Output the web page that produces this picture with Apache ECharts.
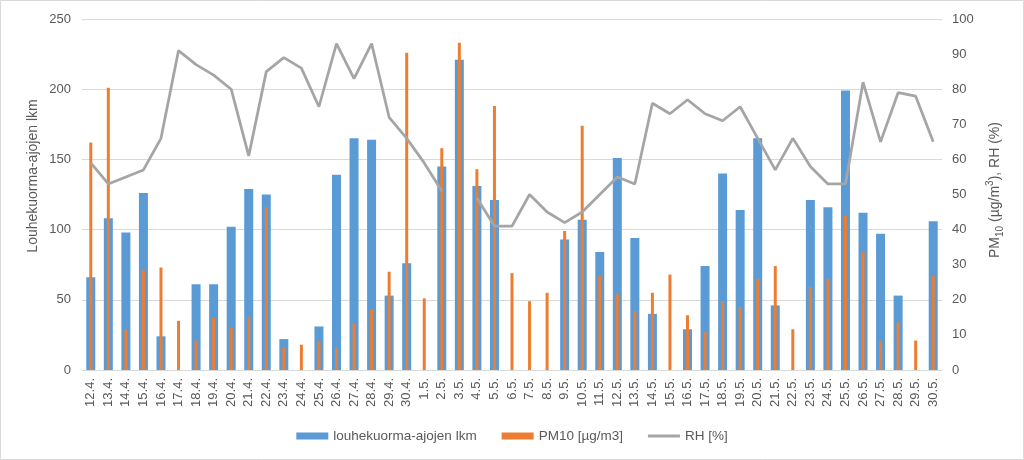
<!DOCTYPE html>
<html>
<head>
<meta charset="utf-8">
<script src="https://cdn.jsdelivr.net/npm/echarts@6/dist/echarts.min.js"></script>
<style>
html,body{margin:0;padding:0;background:#fff;}
#chart{width:1024px;height:460px;}
</style>
</head>
<body>
<div id="chart"></div>
<script>
var categories = ['12.4.','13.4.','14.4.','15.4.','16.4.','17.4.','18.4.','19.4.','20.4.','21.4.','22.4.','23.4.','24.4.','25.4.','26.4.','27.4.','28.4.','29.4.','30.4.',
  '1.5.','2.5.','3.5.','4.5.','5.5.','6.5.','7.5.','8.5.','9.5.','10.5.','11.5.','12.5.','13.5.','14.5.','15.5.','16.5.','17.5.','18.5.','19.5.','20.5.','21.5.','22.5.','23.5.','24.5.','25.5.','26.5.','27.5.','28.5.','29.5.','30.5.'];
var louhekuorma = [66,108,98,126,24,null,61,61,102,129,125,22,null,31,139,165,164,53,76,
  null,145,221,131,121,null,null,null,93,107,84,151,94,40,null,29,74,140,114,165,46,null,121,116,199,112,97,53,null,106];
var pm10 = [162,201,29,71,73,35,21,37,30,38,116,16,18,20,16,33,43,70,226,
  51,158,233,143,188,69,49,55,99,174,67,54,42,55,68,39,27,49,45,65,74,29,59,65,110,84,21,34,21,67];
var rh = [59,53,55,57,66,91,87,84,80,61,85,89,86,75,93,83,93,72,66,
  59,51,null,49,41,41,50,45,42,45,50,55,53,76,73,77,73,71,75,66,57,66,58,53,53,82,65,79,78,65];
var leftTicks = {min:0, max:250, interval:50};
var rightTicks = {min:0, max:100, interval:10};

var chart = echarts.init(document.getElementById('chart'));
var FONT = 'Liberation Sans';
var LBL = '#595959';
chart.setOption({
  animation:false,
  backgroundColor:'#fff',
  textStyle:{fontFamily:FONT},
  grid:{left:82,right:82,top:19,bottom:90,containLabel:false},
  legend:{
    bottom:12,left:'center',itemWidth:32,itemHeight:7,itemGap:25,
    textStyle:{color:LBL,fontSize:13.5,fontFamily:FONT},
    data:[{name:'louhekuorma-ajojen lkm',icon:'rect'},{name:'PM10 [µg/m3]',icon:'rect'},
          {name:'RH [%]',icon:'path://M0,0L32,0L32,3L0,3Z'}]
  },
  xAxis:[
    {type:'category',data:categories,boundaryGap:true,
     axisLine:{lineStyle:{color:'#d9d9d9',width:1}},axisTick:{show:false},
     axisLabel:{rotate:90,color:LBL,fontSize:13,interval:0,margin:8,fontFamily:FONT}},
    {type:'category',data:categories,boundaryGap:true,show:false}
  ],
  yAxis:[
    {type:'value',min:leftTicks.min,max:leftTicks.max,interval:leftTicks.interval,
     axisLine:{show:false},axisTick:{show:false},
     axisLabel:{color:LBL,fontSize:13,margin:11,fontFamily:FONT},
     splitLine:{lineStyle:{color:'#d9d9d9',width:1}}},
    {type:'value',min:rightTicks.min,max:rightTicks.max,interval:rightTicks.interval,
     axisLine:{show:false},axisTick:{show:false},
     axisLabel:{color:LBL,fontSize:13,margin:10,fontFamily:FONT},
     splitLine:{show:false}}
  ],
  series:[
    {name:'louhekuorma-ajojen lkm',type:'bar',xAxisIndex:0,yAxisIndex:0,data:louhekuorma,
     barWidth:9,itemStyle:{color:'#5B9BD5'},z:2},
    {name:'PM10 [µg/m3]',type:'bar',xAxisIndex:1,yAxisIndex:0,data:pm10,
     barWidth:3,itemStyle:{color:'#ED7D31'},z:3},
    {name:'RH [%]',type:'line',xAxisIndex:0,yAxisIndex:1,data:rh,
     symbol:'none',showSymbol:false,lineStyle:{color:'#A5A5A5',width:2.75},itemStyle:{color:'#A5A5A5'},z:4}
  ],
  graphic:[
    {type:'rect',shape:{x:0.5,y:0.5,width:1023,height:459},style:{fill:'none',stroke:'#d9d9d9',lineWidth:1},silent:true},
    {type:'text',x:33,y:176,rotation:Math.PI/2,
     style:{text:'Louhekuorma-ajojen lkm',fill:LBL,font:'14px "Liberation Sans"',align:'center',verticalAlign:'middle'}},
    {type:'text',x:995,y:190,rotation:Math.PI/2,
     style:{text:'{n|PM}{s|10}{n| (µg/m}{p|3}{n|), RH (%)}',align:'center',verticalAlign:'middle',
       rich:{
         n:{fill:LBL,fontSize:14,fontFamily:FONT,lineHeight:20,verticalAlign:'middle'},
         s:{fill:LBL,fontSize:10,fontFamily:FONT,lineHeight:20,verticalAlign:'bottom'},
         p:{fill:LBL,fontSize:10,fontFamily:FONT,lineHeight:20,verticalAlign:'top'}
       }}}
  ]
});
</script>
</body>
</html>
